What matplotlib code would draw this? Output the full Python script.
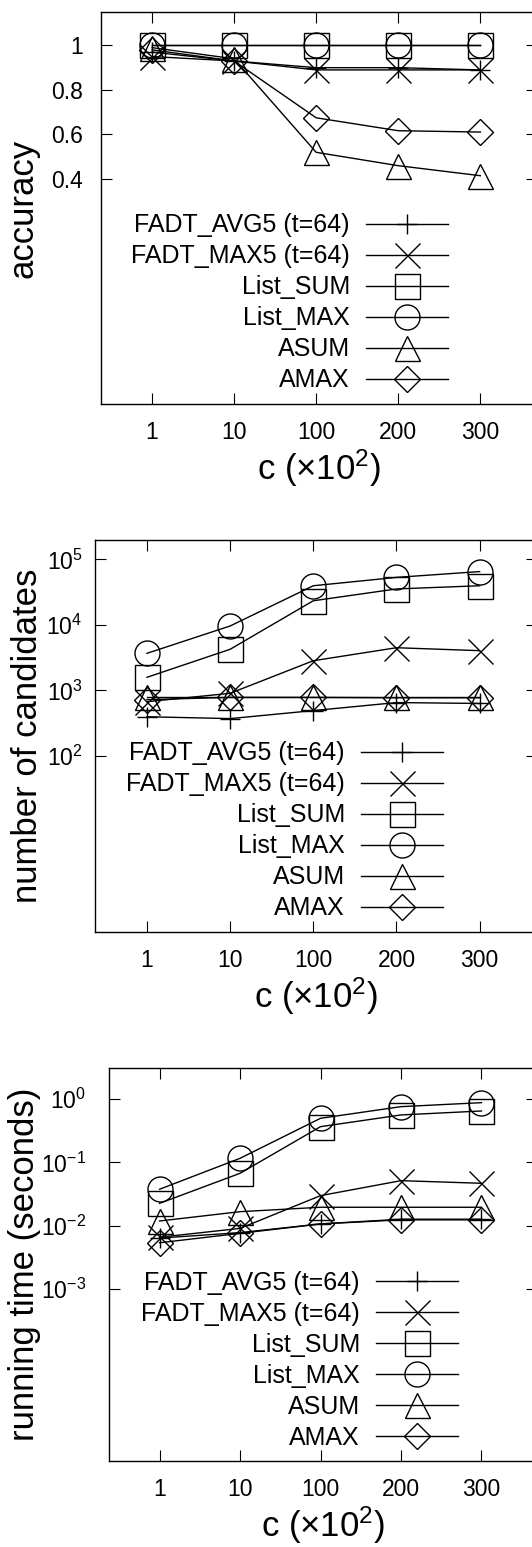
import matplotlib
matplotlib.use("Agg")
from matplotlib import pyplot as plt
from matplotlib.ticker import NullLocator

plt.rcParams['font.family'] = ['Liberation Sans', 'DejaVu Sans']
plt.rcParams['mathtext.fontset'] = 'custom'
plt.rcParams['mathtext.rm'] = 'Liberation Sans'
plt.rcParams['mathtext.it'] = 'Liberation Sans:italic'
plt.rcParams['mathtext.bf'] = 'Liberation Sans:bold'

# x categories: c (x10^2)
c_labels = ['1', '10', '100', '200', '300']
names = ['FADT_AVG5 (t=64)', 'FADT_MAX5 (t=64)', 'List_SUM', 'List_MAX', 'ASUM', 'AMAX']
markers = ['+', 'x', 's', 'o', '^', 'D']
msizes = [15, 18, 18, 18, 18, 13]

# accuracy
acc_avg5 = [0.97, 0.93, 0.90, 0.90, 0.89]
acc_max5 = [0.95, 0.93, 0.89, 0.89, 0.89]
acc_lsum = [1.0, 1.0, 1.0, 1.0, 1.0]
acc_lmax = [1.0, 1.0, 1.0, 1.0, 1.0]
acc_asum = [0.99, 0.94, 0.52, 0.46, 0.415]
acc_amax = [0.98, 0.93, 0.675, 0.617, 0.611]

# number of candidates
cand_avg5 = [395, 370, 490, 650, 630]
cand_max5 = [670, 900, 2830, 4470, 4030]
cand_lsum = [1580, 4230, 23300, 35300, 39500]
cand_lmax = [3670, 9600, 39500, 53000, 65000]
cand_asum = [800, 800, 800, 800, 800]
cand_amax = [720, 780, 780, 770, 770]

# running time (seconds)
time_avg5 = [0.0064, 0.0078, 0.0107, 0.0127, 0.0127]
time_max5 = [0.0066, 0.0091, 0.0299, 0.0515, 0.0468]
time_lsum = [0.0226, 0.0673, 0.366, 0.56, 0.647]
time_lmax = [0.0377, 0.116, 0.496, 0.757, 0.875]
time_asum = [0.0119, 0.0167, 0.0196, 0.0196, 0.0196]
time_amax = [0.0054, 0.0076, 0.0107, 0.0124, 0.0124]

W, H = 532, 1547
fig = plt.figure(figsize=(W / 100, H / 100), dpi=100)


def px_axes(left, top, right, bottom):
    return fig.add_axes([left / W, 1 - bottom / H, (right - left) / W, (bottom - top) / H])


def draw(ax, series, ylabel, ylab_x, leg_xy, ypad):
    x = range(len(c_labels))
    for vals, name, m, ms in zip(series, names, markers, msizes):
        ax.plot(x, vals, color='black', lw=1.0, marker=m, ms=ms, mfc='none',
                mec='black', mew=1.0, label=name)
    ax.set_xlim(-0.625, 4.69)
    ax.set_xticks(list(x))
    ax.set_xticklabels(c_labels)
    ax.tick_params(which='both', direction='in', length=8, width=0.8,
                   top=True, right=True, labelsize=16.5)
    ax.tick_params(axis='x', pad=12)
    ax.tick_params(axis='y', pad=ypad)
    for s in ax.spines.values():
        s.set_linewidth(1.0)
    ax.set_xlabel('c (×10$^2$)', fontsize=25, labelpad=3)
    ax.set_ylabel(ylabel, fontsize=25)
    ax.yaxis.set_label_coords(ylab_x, 0.5)
    ax.legend(loc='upper right', bbox_to_anchor=leg_xy, frameon=False,
              markerfirst=False, fontsize=18, handlelength=3.28,
              handletextpad=0.64, labelspacing=0.28, borderpad=0,
              borderaxespad=0, numpoints=1)


# accuracy panel
ax1 = px_axes(100.7, 12, 537, 404)
draw(ax1, [acc_avg5, acc_max5, acc_lsum, acc_lmax, acc_asum, acc_amax],
     'accuracy', -0.14, (0.796, 0.486), 12.5)
ax1.set_ylim(-0.61, 1.15)
ax1.set_yticks([0.4, 0.6, 0.8, 1.0])
ax1.set_yticklabels(['0.4', '0.6', '0.8', '1'])

# candidates panel
ax2 = px_axes(95, 540, 537, 932)
draw(ax2, [cand_avg5, cand_max5, cand_lsum, cand_lmax, cand_asum, cand_amax],
     'number of candidates', -0.116, (0.787, 0.486), 9)
ax2.set_yscale('log')
ax2.set_ylim(10 ** -0.69, 10 ** 5.295)
ax2.set_yticks([1e2, 1e3, 1e4, 1e5])
ax2.yaxis.set_minor_locator(NullLocator())

# running time panel
ax3 = px_axes(109.3, 1068.3, 537, 1461)
draw(ax3, [time_avg5, time_max5, time_lsum, time_lmax, time_asum, time_amax],
     'running time (seconds)', -0.16, (0.815, 0.485), 17)
ax3.set_yscale('log')
ax3.set_ylim(10 ** -5.71, 10 ** 0.484)
ax3.set_yticks([1e-3, 1e-2, 1e-1, 1e0])
ax3.yaxis.set_minor_locator(NullLocator())

fig.savefig('out.png', dpi=100)
